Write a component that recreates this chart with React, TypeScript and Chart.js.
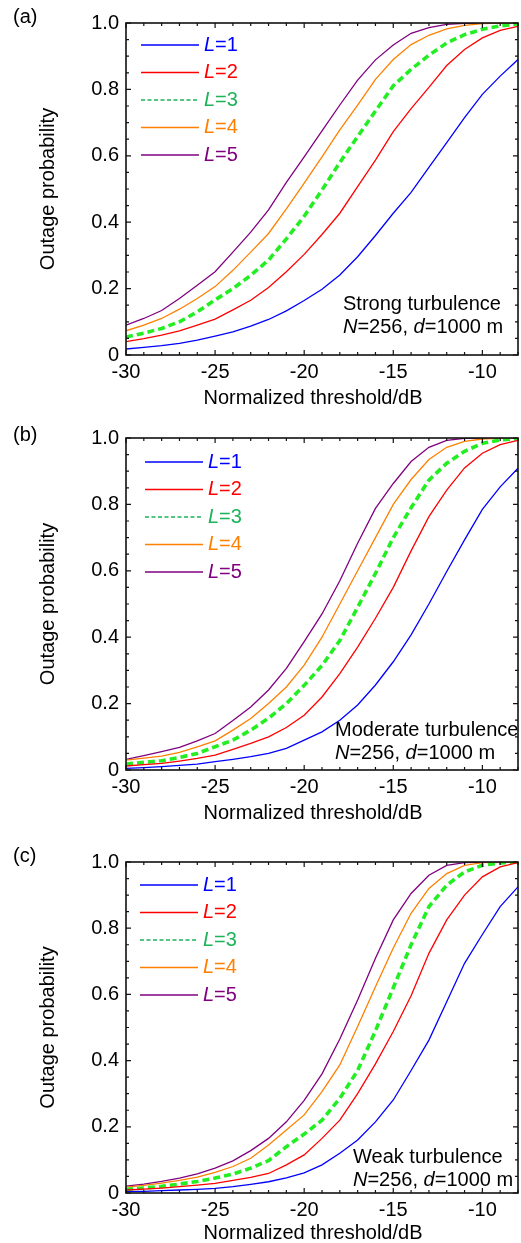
import React, { useEffect, useRef } from "react";
import { Chart, registerables } from "chart.js";

Chart.register(...registerables);

// ---------- data ----------
const thresholdDb = [-30, -29, -28, -27, -26, -25, -24, -23, -22, -21, -20, -19, -18, -17, -16, -15, -14, -13, -12, -11, -10, -9, -8];
const xTickValues = [-30, -25, -20, -15, -10];
const yTickValues = [0, 0.2, 0.4, 0.6, 0.8, 1.0];
const seriesLabels = ["1", "2", "3", "4", "5"];
const panelLabels = ["(a)", "(b)", "(c)"];
const turbulenceLabels = ["Strong turbulence", "Moderate turbulence", "Weak turbulence"];
const xTitle = "Normalized threshold/dB";
const yTitle = "Outage probability";

const strongL1 = [0.018, 0.023, 0.028, 0.035, 0.045, 0.057, 0.07, 0.087, 0.107, 0.133, 0.164, 0.198, 0.241, 0.296, 0.36, 0.427, 0.49, 0.565, 0.64, 0.715, 0.785, 0.84, 0.89];
const strongL2 = [0.04, 0.049, 0.06, 0.073, 0.09, 0.108, 0.136, 0.165, 0.203, 0.251, 0.303, 0.363, 0.427, 0.507, 0.587, 0.673, 0.742, 0.806, 0.872, 0.92, 0.955, 0.978, 0.99];
const strongL3 = [0.054, 0.066, 0.08, 0.1, 0.13, 0.166, 0.2, 0.24, 0.286, 0.35, 0.418, 0.497, 0.58, 0.658, 0.735, 0.811, 0.86, 0.903, 0.94, 0.965, 0.981, 0.991, 0.997];
const strongL4 = [0.073, 0.09, 0.11, 0.138, 0.17, 0.206, 0.255, 0.31, 0.366, 0.44, 0.518, 0.597, 0.678, 0.753, 0.83, 0.89, 0.935, 0.963, 0.982, 0.993, 0.998, 1.0, 1.0];
const strongL5 = [0.09, 0.11, 0.134, 0.17, 0.21, 0.251, 0.31, 0.37, 0.437, 0.52, 0.597, 0.675, 0.753, 0.828, 0.889, 0.934, 0.969, 0.986, 0.996, 0.999, 1.0, 1.0, 1.0];

const moderateL1 = [0.005, 0.007, 0.01, 0.014, 0.018, 0.025, 0.032, 0.04, 0.05, 0.065, 0.09, 0.115, 0.15, 0.196, 0.256, 0.326, 0.407, 0.5, 0.598, 0.693, 0.785, 0.853, 0.909];
const moderateL2 = [0.012, 0.016, 0.02, 0.027, 0.035, 0.045, 0.062, 0.08, 0.1, 0.128, 0.165, 0.22, 0.29, 0.37, 0.457, 0.55, 0.66, 0.763, 0.843, 0.91, 0.954, 0.98, 0.993];
const moderateL3 = [0.018, 0.023, 0.028, 0.038, 0.05, 0.07, 0.09, 0.12, 0.156, 0.2, 0.255, 0.315, 0.39, 0.49, 0.592, 0.7, 0.79, 0.873, 0.924, 0.96, 0.984, 0.994, 0.998];
const moderateL4 = [0.03, 0.036, 0.042, 0.053, 0.07, 0.088, 0.12, 0.155, 0.2, 0.25, 0.316, 0.4, 0.5, 0.6, 0.7, 0.8, 0.875, 0.935, 0.972, 0.99, 0.997, 1.0, 1.0];
const moderateL5 = [0.032, 0.043, 0.055, 0.068, 0.088, 0.11, 0.149, 0.19, 0.241, 0.306, 0.387, 0.47, 0.57, 0.683, 0.788, 0.863, 0.929, 0.972, 0.993, 0.999, 1.0, 1.0, 1.0];

const weakL1 = [0.004, 0.005, 0.007, 0.009, 0.011, 0.014, 0.019, 0.026, 0.034, 0.046, 0.061, 0.085, 0.12, 0.16, 0.215, 0.281, 0.37, 0.462, 0.578, 0.694, 0.781, 0.865, 0.925];
const weakL2 = [0.009, 0.012, 0.015, 0.019, 0.024, 0.029, 0.038, 0.047, 0.059, 0.085, 0.115, 0.165, 0.22, 0.3, 0.39, 0.488, 0.596, 0.724, 0.825, 0.9, 0.955, 0.985, 0.998];
const weakL3 = [0.011, 0.015, 0.02, 0.027, 0.035, 0.045, 0.057, 0.075, 0.098, 0.14, 0.178, 0.22, 0.286, 0.37, 0.49, 0.62, 0.75, 0.865, 0.93, 0.97, 0.99, 0.997, 1.0];
const weakL4 = [0.018, 0.023, 0.03, 0.038, 0.048, 0.062, 0.08, 0.105, 0.145, 0.19, 0.236, 0.306, 0.387, 0.503, 0.623, 0.74, 0.845, 0.92, 0.965, 0.99, 0.998, 1.0, 1.0];
const weakL5 = [0.021, 0.027, 0.035, 0.045, 0.058, 0.075, 0.097, 0.128, 0.165, 0.215, 0.28, 0.36, 0.465, 0.583, 0.709, 0.825, 0.905, 0.96, 0.99, 0.998, 1.0, 1.0, 1.0];

// ---------- styles ----------
const FONT = '"Liberation Sans", Arial, sans-serif';
const lineColors = ["#0000FF", "#FF0000", "#22EE22", "#FF8000", "#800080"];
const legendColors = ["#0000FF", "#FF0000", "#1DB35A", "#FF8000", "#800080"];

const panels = [
  { top: 0, height: 415, series: [strongL1, strongL2, strongL3, strongL4, strongL5], noteX: 343, noteY: -51, labelDy: -6, titleDy: 43, legendX: 15, legendY: 22 },
  { top: 415, height: 424, series: [moderateL1, moderateL2, moderateL3, moderateL4, moderateL5], noteX: 335, noteY: -40, labelDy: -3, titleDy: 43, legendX: 19, legendY: 24 },
  { top: 839, height: 404, series: [weakL1, weakL2, weakL3, weakL4, weakL5], noteX: 353, noteY: -36, labelDy: -6, titleDy: 40, legendX: 14, legendY: 23 },
];

function drawRich(ctx: CanvasRenderingContext2D, parts: { t: string; i?: boolean }[], x: number, y: number, size: number) {
  let cx = x;
  for (const p of parts) {
    ctx.font = `${p.i ? "italic " : ""}${size}px ${FONT}`;
    ctx.fillText(p.t, cx, y);
    cx += ctx.measureText(p.t).width;
  }
}

function makeDecor(panelIndex: number) {
  const p = panels[panelIndex];
  return {
    id: "decor" + panelIndex,
    afterDraw(chart: any) {
      const { ctx, chartArea: a, scales } = chart;
      const xs = scales.x;
      const ys = scales.y;
      ctx.save();
      // frame
      ctx.strokeStyle = "#111";
      ctx.lineWidth = 1.6;
      ctx.strokeRect(a.left, a.top, a.right - a.left, a.bottom - a.top);
      ctx.lineWidth = 1.2;
      ctx.beginPath();
      for (let v = -30; v <= -8; v++) {
        const px = xs.getPixelForValue(v);
        const len = v % 5 === 0 ? 5 : 3;
        ctx.moveTo(px, a.bottom);
        ctx.lineTo(px, a.bottom - len);
        ctx.moveTo(px, a.top);
        ctx.lineTo(px, a.top + len);
      }
      for (let i = 0; i <= 20; i++) {
        const py = ys.getPixelForValue(i * 0.05);
        const len = i % 4 === 0 ? 5 : 3;
        ctx.moveTo(a.left, py);
        ctx.lineTo(a.left + len, py);
        ctx.moveTo(a.right, py);
        ctx.lineTo(a.right - len, py);
      }
      ctx.stroke();

      // legend
      ctx.textBaseline = "middle";
      ctx.textAlign = "left";
      for (let i = 0; i < seriesLabels.length; i++) {
        const ly = a.top + p.legendY + i * 27.5;
        const lx = a.left + p.legendX;
        ctx.strokeStyle = legendColors[i];
        ctx.lineWidth = 1.3;
        ctx.setLineDash(i === 2 ? [4, 2.5] : []);
        ctx.beginPath();
        ctx.moveTo(lx, ly);
        ctx.lineTo(lx + 58, ly);
        ctx.stroke();
        ctx.setLineDash([]);
        ctx.fillStyle = legendColors[i];
        drawRich(ctx, [{ t: "L", i: true }, { t: "=" + seriesLabels[i] }], lx + 63, ly, 20);
      }

      // note
      ctx.fillStyle = "#000";
      ctx.font = `20px ${FONT}`;
      ctx.fillText(turbulenceLabels[panelIndex], p.noteX, a.bottom + p.noteY);
      drawRich(ctx, [{ t: "N", i: true }, { t: "=256, " }, { t: "d", i: true }, { t: "=1000 m" }], p.noteX, a.bottom + p.noteY + 23, 20);

      // panel label
      ctx.font = `20px ${FONT}`;
      ctx.fillText(panelLabels[panelIndex], 13, a.top + p.labelDy);

      // x title
      ctx.textAlign = "center";
      ctx.fillText(xTitle, 313, a.bottom + p.titleDy);

      // y title
      ctx.translate(48, (a.top + a.bottom) / 2);
      ctx.rotate(-Math.PI / 2);
      ctx.fillText(yTitle, 0, 0);
      ctx.restore();
    },
  };
}

function Panel({ index }: { index: number }) {
  const ref = useRef<HTMLCanvasElement | null>(null);
  const p = panels[index];
  useEffect(() => {
    if (!ref.current) return;
    const xHeight = p.height - 23 - (index === 2 ? 331 : 332);
    const chart = new Chart(ref.current, {
      type: "line",
      data: {
        datasets: p.series.map((vals, i) => ({
          label: "L=" + seriesLabels[i],
          data: thresholdDb.map((x, k) => ({ x, y: vals[k] })),
          borderColor: lineColors[i],
          borderWidth: i === 2 ? 3.6 : 1.3,
          borderDash: i === 2 ? [7, 4] : [],
          pointRadius: 0,
          tension: 0,
          fill: false,
        })),
      },
      options: {
        responsive: false,
        animation: false,
        layout: { padding: { top: 23, right: 3, left: 0, bottom: 0 } },
        plugins: { legend: { display: false }, tooltip: { enabled: false } },
        scales: {
          x: {
            type: "linear",
            min: -30,
            max: -8,
            grid: { display: false, drawTicks: false },
            border: { display: false },
            afterBuildTicks: (s: any) => {
              s.ticks = xTickValues.map((v) => ({ value: v }));
            },
            afterFit: (s: any) => {
              s.height = xHeight;
            },
            ticks: {
              color: "#000",
              font: { size: 20, family: FONT },
              padding: 5,
              maxRotation: 0,
              callback: (v: any) => String(v),
            },
          },
          y: {
            type: "linear",
            min: 0,
            max: 1,
            grid: { display: false, drawTicks: false },
            border: { display: false },
            afterBuildTicks: (s: any) => {
              s.ticks = yTickValues.map((v) => ({ value: v }));
            },
            afterFit: (s: any) => {
              s.width = 126;
            },
            ticks: {
              color: "#000",
              font: { size: 20, family: FONT },
              padding: 7,
              callback: (v: any) => (Number(v) === 0 ? "0" : Number(v).toFixed(1)),
            },
          },
        },
      },
      plugins: [makeDecor(index)],
    } as any);
    return () => chart.destroy();
  }, []);
  return (
    <canvas
      ref={ref}
      width={521}
      height={p.height}
      style={{ position: "absolute", left: 0, top: p.top, width: 521, height: p.height, display: "block" }}
    />
  );
}

export default function App() {
  return (
    <div style={{ position: "absolute", left: 0, top: 0, width: 521, height: 1243, overflow: "hidden", background: "#fff" }}>
      {panels.map((_, i) => (
        <Panel key={i} index={i} />
      ))}
    </div>
  );
}
